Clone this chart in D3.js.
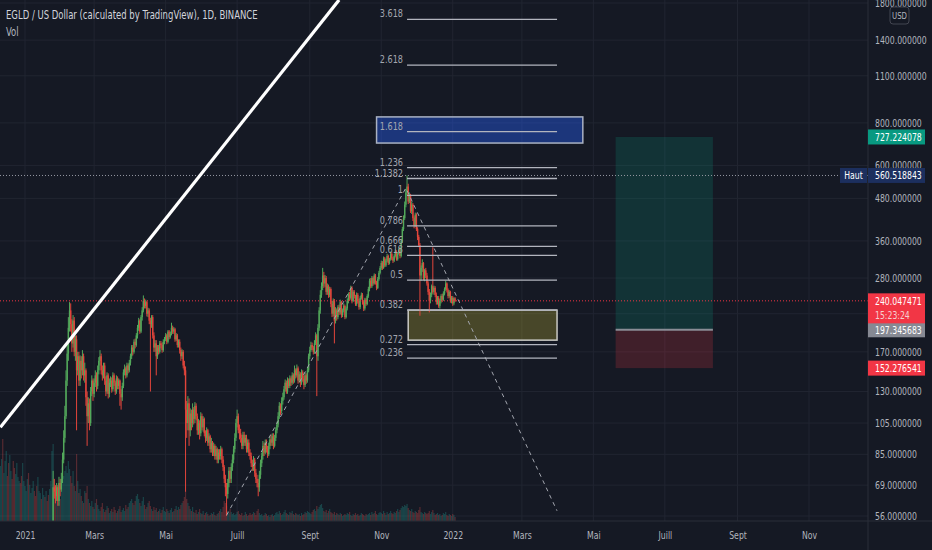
<!DOCTYPE html>
<html>
<head>
<meta charset="utf-8">
<script src="https://cdn.jsdelivr.net/npm/d3@7"></script>
<style>
  html, body { margin: 0; padding: 0; background: #151924; }
  svg { display: block; }
  text { font-family: "DejaVu Sans Condensed", "DejaVu Sans", sans-serif; }
</style>
</head>
<body>
<div id="chart"></div>
<script>
// layout
const svgWidth = 932,
    svgHeight = 550,
    plotRight = 868,
    plotBottom = 521;

// daily candles from startDate, open of a bar = close of the bar before
const startDate = "2020-12-11";
const firstOpen = 25;
const closes = [
    26,27,26,27,28,30,29,28,30,31,29,28,26,27,28,29,31,30,29,30,31,
    32,34,37,35,36,39,42,45,41,38,36,40,43,46,44,47,48,45,46,44,42,45,48,50,
    68,66,64,68,62,70,67,72,82,95,110,140,168,200,225,
    205,180,210,170,185,150,165,140,160,150,165,145,150,
    125,110,120,105,130,140,128,138,145,135,
    150,160,165,150,145,155,
    140,130,145,128,138,
    140,132,145,138,130,142,135,140,128,125,135,
    148,152,145,155,150,158,
    165,175,170,182,178,190,
    200,210,195,215,225,
    240,232,238,220,225,210,205,215,
    190,175,180,165,
    175,170,180,178,172,182,
    185,190,182,195,188,192,
    200,195,198,185,190,178,182,172,
    165,170,155,150,115,
    105,120,100,112,105,
    115,108,118,110,100,105,98,
    110,102,108,98,95,100,92,96,88,
    92,86,90,84,88,82,86,
    84,88,82,78,
    72,68,65,70,76,72,
    78,82,88,95,105,110,100,98,
    95,90,97,92,95,88,92,86,84,
    80,78,82,75,72,70,68,74,
    80,84,90,86,92,88,85,90,94,
    92,96,90,95,100,104,
    110,118,114,122,125,
    132,138,130,140,135,142,138,145,140,
    150,145,152,140,146,138,148,142,
    136,145,140,150,
    165,172,178,175,170,
    180,190,165,
    200,225,250,265,285,
    270,280,255,265,250,260,
    235,220,240,210,225,215,
    230,222,238,218,225,232,215,228,240,
    250,245,262,240,255,248,235,250,
    240,230,245,250,238,228,242,235,248,
    260,275,265,280,270,285,272,262,278,290,300,
    310,300,320,305,315,325,310,318,330,320,315,
    325,335,318,330,340,325,
    360,390,420,460,500,520,
    470,490,440,460,420,
    400,430,390,370,350,285,
    300,310,280,295,285,270,
    255,240,250,265,255,262,
    250,238,245,232,240,248,242,252,260,270,258,
    248,255,240,245,236,244,240.047471
];
const highs = [
    27,28,28,28,29,31,31,30,31,32,32,30,29,28,29,30,32,32,31,31,32,
    33,35,38,38,37,40,43,47,46,42,39,41,44,48,47,48,50,49,47,47,45,46,49,53,
    76,72,69,70,69,73,72,75,86,100,118,150,180,215,238,
    236,212,218,215,190,190,170,170,166,165,172,168,158,
    152,130,125,124,134,145,142,142,150,148,
    155,164,172,168,155,158,
    158,144,148,147,142,
    144,143,148,147,140,145,144,142,141,132,138,
    151,156,154,158,157,161,
    168,178,178,185,186,193,
    204,214,212,218,230,
    249,244,242,240,229,228,214,218,
    218,194,184,184,
    178,178,183,183,181,185,
    188,193,192,197,197,195,
    207,203,201,200,193,192,185,185,
    175,173,172,160,154,
    122,126,124,116,115,
    120,117,121,120,112,108,107,
    113,112,110,109,100,102,101,98,97,
    95,93,92,91,90,89,88,
    88,90,89,84,
    79,74,70,72,78,78,
    80,85,90,98,108,115,112,104,
    101,97,99,99,97,97,94,94,88,
    86,82,84,83,77,74,72,76,
    82,86,93,92,94,94,90,92,96,
    97,98,98,97,102,106,
    113,121,120,125,129,
    135,141,140,143,142,145,144,148,147,
    155,152,156,154,149,148,151,150,
    145,148,147,153,
    168,176,182,181,177,
    184,194,192,
    205,230,258,272,300,
    292,286,284,270,268,264,
    263,240,244,243,230,228,
    233,234,242,240,228,236,234,231,244,
    254,255,266,265,258,258,250,254,
    253,243,248,254,253,240,245,245,251,
    264,279,280,284,283,289,288,275,282,294,304,
    315,314,324,323,319,330,328,321,335,334,323,
    329,340,338,334,345,342,
    365,396,428,470,512,560.518843,
    530,500,495,470,465,
    425,436,434,395,375,355,
    305,318,312,298,300,290,
    274,260,254,268,345,266,
    265,254,248,248,243,251,252,256,263,275,272,
    261,258,257,248,248,246,246
];
const lows = [
    24,25,25,25,26,27,28,27,27,29,28,27,25,25,26,27,28,29,28,28,29,
    30,31,33,34,34,35,38,41,39,36,34,35,39,42,43,43,46,44,44,43,41,41,44,47,
    49,63,61,62,60,60,64,66,70,80,92,108,135,160,195,
    195,170,175,165,160,100,145,135,135,142,145,140,138,
    118,90,105,100,103,126,122,125,134,130,
    132,146,155,146,140,142,
    136,126,128,124,125,
    134,129,130,135,127,128,132,132,118,115,122,
    133,145,142,143,147,148,
    155,162,166,168,174,176,
    186,196,192,193,210,
    222,228,228,216,215,205,130,200,
    186,170,170,145,
    162,167,168,174,169,170,
    179,183,179,180,185,186,
    190,192,192,182,183,175,175,168,
    160,162,152,145,66,
    95,100,90,96,100,
    102,104,105,107,97,97,94,
    96,100,99,96,92,93,90,90,86,
    86,84,84,82,82,80,80,
    82,82,80,76,
    70,64,56,63,68,70,
    70,76,80,86,93,102,98,94,
    92,88,88,90,90,86,86,84,82,
    78,76,76,73,70,68,64,66,
    72,78,82,84,85,86,83,84,88,
    90,90,88,89,93,98,
    102,108,111,112,119,
    123,130,128,128,133,133,135,136,137,
    138,142,143,137,138,134,136,139,
    132,134,137,138,
    148,162,170,172,167,
    168,178,126,
    160,196,220,245,258,
    262,264,250,250,245,246,
    230,215,216,180,206,210,
    212,218,219,214,215,222,212,213,225,
    236,240,242,236,238,244,232,232,
    236,226,227,242,234,224,225,232,233,
    245,256,262,262,266,268,268,258,260,275,287,
    296,296,298,302,302,312,306,307,315,316,310,
    312,322,315,315,328,320,
    322,355,385,415,452,490,
    462,465,435,432,412,
    392,396,385,362,345,217,
    275,292,276,274,280,266,
    250,222,236,246,252,250,
    246,234,234,229,228,236,238,240,249,257,254,
    244,245,237,236,232,233,238
];
// volume, in 10k EGLD
const volumes = [
    55,62,82,48,60,70,45,58,66,50,42,60,53,47,58,44,40,
    38,45,58,40,35,30,42,48,36,28,33,40,30,25,35,44,30,28,22,33,26,24,30,20,26,32,40,70,
    77,35,28,30,25,32,22,30,40,45,50,55,48,60,52,45,38,50,35,30,67,40,28,32,
    25,20,18,30,28,35,22,18,15,20,14,12,18,22,16,12,10,14,18,12,9,11,15,13,8,10,12,9,14,11,8,10,12,15,9,11,13,10,16,12,14,18,20,
    22,18,16,20,25,27,22,18,15,20,24,16,12,14,18,20,15,12,10,14,11,13,9,10,12,8,11,14,10,9,12,10,8,11,13,9,10,12,15,11,14,12,16,18,20,24,
    30,
    22,18,15,12,10,14,9,8,11,7,9,12,8,7,10,6,8,9,7,5,6,8,7,9,6,5,7,8,10,12,9,14,20,18,15,10,8,12,9,7,8,6,7,9,10,
    7,6,8,5,6,9,7,5,6,8, 6,7,9,8,6,10,12,8,6,7, 5,6,8,7,5,6,4,6,7,5, 6,8,9,7,10,8,6,7,9,11,
    8,7,6,9,8,10,7,6,8,7, 6,7,5,8,6,7,9,8,10,9, 8,7,9,11,12,10,15,12,14,16, 17,13,10,9,11,8,10,12,9,8,
    7,9,6,8,7,6,8,7,5,6, 7,6,8,7,9,6,5,7,6,8, 6,7,5,6,8,7,6,5,7,6, 7,8,6,9,7,8,10,7,6,8,
    9,8,7,10,8,6,9,7,8,10, 8,7,9,8,10,12,9,11,13,15, 14,16,15,17,13,11,10,12,9,8, 10,9,8,11,14,9,8,7,9,8,
    7,8,10,7,9,11,8,6,7,8, 6,7,5,6,8,7,9,6,5,7, 6,5,7,6,4
];

// axes
const priceTicks = [56, 69, 85, 105, 130, 170, 220, 280, 360, 480, 600, 800, 1100, 1400, 1800];
const timeTicks = ["2021-01-01", "2021-03-01", "2021-05-01", "2021-07-01", "2021-09-01", "2021-11-01",
    "2022-01-01", "2022-03-01", "2022-05-01", "2022-07-01", "2022-09-01", "2022-11-01"];
const timeLabels = ["2021", "Mars", "Mai", "Juill", "Sept", "Nov", "2022", "Mars", "Mai", "Juill", "Sept", "Nov"];

// fib retracement (0 = fibLow, 1 = fibHigh)
const fibLevels = [3.618, 2.618, 1.618, 1.236, 1.1382, 1, 0.786, 0.666, 0.618, 0.5, 0.382, 0.272, 0.236];
const fibLow = 62, fibHigh = 490;
const fibDates = ["2021-11-23", "2022-03-31"];

// drawings
const blueBoxDates = ["2021-10-28", "2022-04-22"], blueBoxPrices = [833, 698];
const zoneDates = ["2021-11-24", "2022-03-31"], zonePrices = [225.5, 184];
const pathDates = ["2021-06-22", "2021-11-22", "2022-03-31"], pathPrices = [56.3, 515, 58];
const trendDates = ["2020-12-11", "2021-09-26"], trendPrices = [102, 1838];

// long position
const longDates = ["2022-05-20", "2022-08-11"];
const targetPrice = 727.224078, entryPrice = 197.345683, stopPrice = 152.276541;
const countdown = "15:23:24";

const parse = d3.utcParse("%Y-%m-%d");
const upColor = "#53a85b", downColor = "#e2453b";

let svg = d3.select("#chart").append("svg")
    .attr("width", svgWidth)
    .attr("height", svgHeight);

svg.append("rect").attr("width", svgWidth).attr("height", svgHeight).attr("fill", "#151924");

// scales
let x = d3.scaleUtc()
    .domain([parse("2021-01-01"), parse("2022-11-01")])
    .range([25, 809]);
let y = d3.scaleLog()
    .domain([56, 1800])
    .range([516, 3]);
let yVol = d3.scaleLinear()
    .domain([0, 100])
    .range([plotBottom, plotBottom - 100]);

// bars
let bars = closes.map((c, i) => ({
    date: d3.utcDay.offset(parse(startDate), i),
    open: i === 0 ? firstOpen : closes[i - 1],
    close: c,
    high: highs[i],
    low: lows[i],
    vol: volumes[i]
}));

svg.append("clipPath").attr("id", "plot")
    .append("rect").attr("width", plotRight).attr("height", plotBottom);

// grid
let grid = svg.append("g").attr("stroke", "#212531").attr("stroke-width", 1);
grid.selectAll(".gx").data(timeTicks).join("line")
    .attr("x1", d => x(parse(d))).attr("x2", d => x(parse(d)))
    .attr("y1", 0).attr("y2", plotBottom);
grid.selectAll(".gy").data(priceTicks).join("line")
    .attr("x1", 0).attr("x2", plotRight)
    .attr("y1", d => y(d)).attr("y2", d => y(d));

let plot = svg.append("g").attr("clip-path", "url(#plot)");

// volume
plot.append("g").selectAll("rect")
    .data(bars)
    .join("rect")
    .attr("x", d => x(d.date) - 0.6)
    .attr("width", 1.2)
    .attr("y", d => yVol(d.vol))
    .attr("height", d => plotBottom - yVol(d.vol))
    .attr("fill", d => d.close >= d.open ? "#26a69a" : "#ef5350")
    .attr("opacity", 0.3);

// boxes under the series
plot.append("rect")
    .attr("x", x(parse(blueBoxDates[0])))
    .attr("width", x(parse(blueBoxDates[1])) - x(parse(blueBoxDates[0])))
    .attr("y", y(blueBoxPrices[0]))
    .attr("height", y(blueBoxPrices[1]) - y(blueBoxPrices[0]))
    .attr("fill", "rgba(41,98,255,0.4)")
    .attr("stroke", "#a9b1c2").attr("stroke-width", 1.5);
plot.append("rect")
    .attr("x", x(parse(zoneDates[0])))
    .attr("width", x(parse(zoneDates[1])) - x(parse(zoneDates[0])))
    .attr("y", y(zonePrices[0]))
    .attr("height", y(zonePrices[1]) - y(zonePrices[0]))
    .attr("fill", "rgba(255,235,59,0.22)")
    .attr("stroke", "#c9c9c4").attr("stroke-width", 1.5);

// long position
let lx0 = x(parse(longDates[0])), lx1 = x(parse(longDates[1]));
plot.append("rect")
    .attr("x", lx0).attr("width", lx1 - lx0)
    .attr("y", y(targetPrice)).attr("height", y(entryPrice) - y(targetPrice))
    .attr("fill", "rgba(8,153,129,0.2)");
plot.append("rect")
    .attr("x", lx0).attr("width", lx1 - lx0)
    .attr("y", y(entryPrice)).attr("height", y(stopPrice) - y(entryPrice))
    .attr("fill", "rgba(242,54,69,0.2)");
plot.append("line")
    .attr("x1", lx0).attr("x2", lx1)
    .attr("y1", y(entryPrice)).attr("y2", y(entryPrice))
    .attr("stroke", "#8a8d96").attr("stroke-width", 2);

// candles
let candles = plot.append("g").selectAll("g")
    .data(bars)
    .join("g")
    .attr("fill", d => d.close >= d.open ? upColor : downColor);
candles.append("rect")
    .attr("x", d => x(d.date) - 0.5)
    .attr("width", 1)
    .attr("y", d => y(d.high))
    .attr("height", d => Math.max(0.5, y(d.low) - y(d.high)));
candles.append("rect")
    .attr("x", d => x(d.date) - 0.7)
    .attr("width", 1.4)
    .attr("y", d => y(Math.max(d.open, d.close)))
    .attr("height", d => Math.max(0.8, Math.abs(y(d.open) - y(d.close))));

// high & last price lines
let high = d3.max(highs), last = closes[closes.length - 1];
plot.append("line")
    .attr("x1", 0).attr("x2", plotRight)
    .attr("y1", y(high)).attr("y2", y(high))
    .attr("stroke", "#9598a1").attr("stroke-dasharray", "1,2");
plot.append("line")
    .attr("x1", 0).attr("x2", plotRight)
    .attr("y1", y(last)).attr("y2", y(last))
    .attr("stroke", "#f23645").attr("stroke-dasharray", "1,2");

// trend line
plot.append("line")
    .attr("x1", x(parse(trendDates[0]))).attr("y1", y(trendPrices[0]))
    .attr("x2", x(parse(trendDates[1]))).attr("y2", y(trendPrices[1]))
    .attr("stroke", "#ffffff").attr("stroke-width", 3.2);

// projection path
plot.append("path")
    .datum(pathDates.map((d, i) => [x(parse(d)), y(pathPrices[i])]))
    .attr("d", d3.line())
    .attr("fill", "none")
    .attr("stroke", "#a3a6af").attr("stroke-width", 1)
    .attr("stroke-dasharray", "4,4");

// fib levels
let fx0 = x(parse(fibDates[0])), fx1 = x(parse(fibDates[1]));
let fib = plot.append("g");
fib.selectAll("line").data(fibLevels).join("line")
    .attr("x1", fx0).attr("x2", fx1)
    .attr("y1", d => y(fibLow + (fibHigh - fibLow) * d))
    .attr("y2", d => y(fibLow + (fibHigh - fibLow) * d))
    .attr("stroke", "#b2b5be").attr("stroke-width", 1.3);
fib.selectAll("text").data(fibLevels).join("text")
    .attr("x", fx0 - 4)
    .attr("y", d => y(fibLow + (fibHigh - fibLow) * d) - 2)
    .attr("text-anchor", "end")
    .attr("font-size", 11)
    .attr("fill", "#a3a6af")
    .text(d => d);

// tags on the price scale: [price, colour, lines]
let tags = [
    [targetPrice, "#089981", [targetPrice.toFixed(6)]],
    [high, "#1c2f5e", [high.toFixed(6)]],
    [entryPrice, "#868993", [entryPrice.toFixed(6)]],
    [stopPrice, "#f23645", [stopPrice.toFixed(6)]],
    [last, "#f23645", [last.toFixed(6), countdown]]
];
// a tick label that falls under a tag is not shown
let covered = p => tags.some(t => y(p) > y(t[0]) - 7.5 && y(p) < y(t[0]) - 7.5 + 15 * t[2].length);

// axes
let yAxis = svg.append("g")
    .attr("transform", `translate(${plotRight}, 0)`)
    .call(d3.axisRight(y).tickValues(priceTicks.filter(p => !covered(p)))
        .tickFormat(d => d.toFixed(6)).tickSize(0).tickPadding(7));
let xAxis = svg.append("g")
    .attr("transform", `translate(0, ${plotBottom})`)
    .call(d3.axisBottom(x).tickValues(timeTicks.map(parse)).tickFormat((d, i) => timeLabels[i]).tickSize(0).tickPadding(11));
[yAxis, xAxis].forEach(a => {
    a.select(".domain").remove();
    a.selectAll("text").attr("fill", "#b2b5be").attr("font-size", 10.5)
        .style("font-family", '"DejaVu Sans Condensed", "DejaVu Sans", sans-serif');
});

svg.append("line").attr("x1", plotRight).attr("x2", plotRight).attr("y1", 0).attr("y2", svgHeight)
    .attr("stroke", "#2a2e39");
svg.append("line").attr("x1", 0).attr("x2", svgWidth).attr("y1", plotBottom).attr("y2", plotBottom)
    .attr("stroke", "#2a2e39");

// currency badge
svg.append("rect").attr("x", 890).attr("y", 7).attr("width", 19).attr("height", 17).attr("rx", 3)
    .attr("fill", "#151924").attr("stroke", "#434651");
svg.append("text").attr("x", 899.5).attr("y", 19).attr("text-anchor", "middle")
    .attr("font-size", 9.5).attr("fill", "#b2b5be").text("USD");

// price tags
tags.forEach(([price, color, lines]) => {
    let top = y(price) - 7.5;
    svg.append("rect").attr("x", plotRight).attr("y", top).attr("width", 57).attr("height", 15 * lines.length)
        .attr("fill", color);
    lines.forEach((t, i) => {
        svg.append("text").attr("x", 875).attr("y", top + 11.5 + i * 14)
            .attr("font-size", 10.5).attr("fill", i === 0 ? "#ffffff" : "#f5d0d0").text(t);
    });
});
svg.append("rect").attr("x", 840).attr("y", y(high) - 7.5).attr("width", 27).attr("height", 15)
    .attr("fill", "#1c2f5e");
svg.append("text").attr("x", 853.5).attr("y", y(high) + 4).attr("text-anchor", "middle")
    .attr("font-size", 10.5).attr("fill", "#ffffff").text("Haut");

// header
svg.append("text").attr("x", 6).attr("y", 19).attr("font-size", 11.5).attr("fill", "#d1d4dc")
    .text("EGLD / US Dollar (calculated by TradingView), 1D, BINANCE");
svg.append("text").attr("x", 6).attr("y", 36).attr("font-size", 11.5).attr("fill", "#b2b5be")
    .text("Vol");

// the reference font is narrower than DejaVu Condensed: squeeze every text horizontally
svg.selectAll("text").each(function () {
    let len = this.getComputedTextLength();
    if (len > 0) {
        this.setAttribute("textLength", (len * 0.82).toFixed(1));
        this.setAttribute("lengthAdjust", "spacingAndGlyphs");
    }
});
</script>
</body>
</html>
